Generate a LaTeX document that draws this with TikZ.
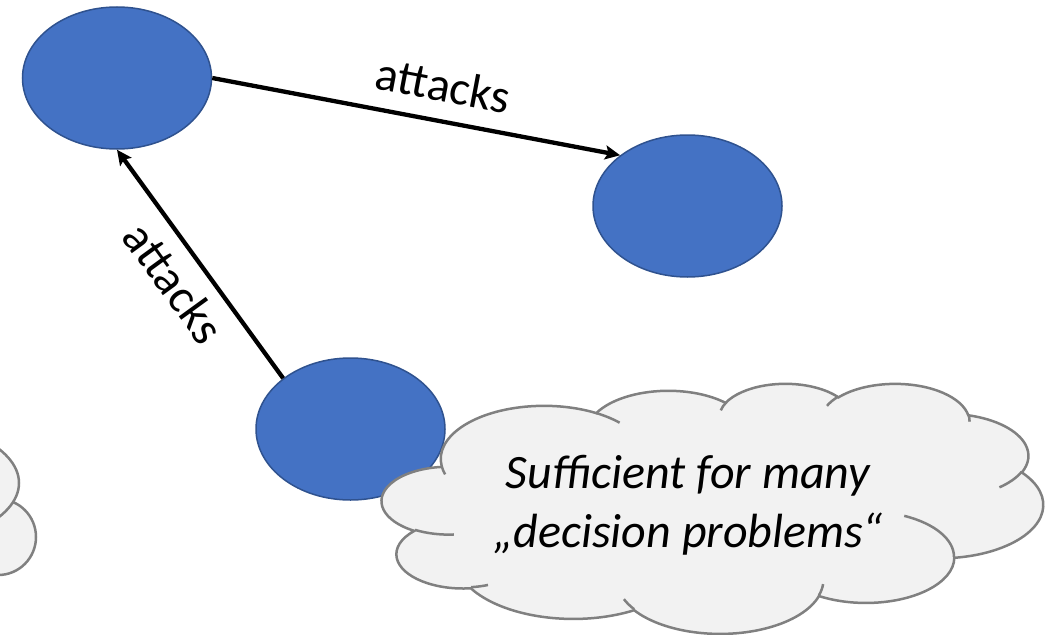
\documentclass[tikz,border=0pt]{standalone}
\usepackage{fontspec}
\setmainfont{Carlito}
\usetikzlibrary{shapes.geometric,arrows.meta}

\definecolor{nodeblue}{HTML}{4472C4}
\definecolor{nodeedge}{HTML}{2F528F}
\definecolor{cloudfill}{HTML}{F2F2F2}
\definecolor{cloudline}{HTML}{808080}

% Elliptical arc given by a visual start angle and sweep (y pointing down):
% converts both to parametric angles and stores them as \cS<name>, \cD<name>.
\newcommand\cloudarc[5]{%
  \pgfmathsetmacro\cloudS{atan2((#2)*sin(#4),(#3)*cos(#4))}%
  \pgfmathsetmacro\cloudE{atan2((#2)*sin((#4)+(#5)),(#3)*cos((#4)+(#5)))}%
  \pgfmathsetmacro\cloudD{\cloudE-\cloudS}%
  \pgfmathsetmacro\cloudD{ifthenelse((#5)>0,ifthenelse(\cloudD<0,\cloudD+360,\cloudD),ifthenelse(\cloudD>0,\cloudD-360,\cloudD))}%
  \expandafter\xdef\csname cS#1\endcsname{\cloudS}%
  \expandafter\xdef\csname cD#1\endcsname{\cloudD}%
}
% outer outline
\cloudarc{a}{67.53}{91.90}{-190.48748}{123.78053}
\cloudarc{b}{53.33}{72.67}{-144.10238}{89.94523}
\cloudarc{c}{43.65}{59.45}{-145.80792}{99.72302}
\cloudarc{d}{48.57}{65.95}{-130.98607}{117.24173}
\cloudarc{e}{53.33}{72.73}{-78.70888}{109.02692}
\cloudarc{f}{67.75}{92.20}{-46.26725}{130.26900}
\cloudarc{g}{57.85}{78.67}{0.62502}{114.03333}
\cloudarc{h}{67.52}{92.15}{22.45160}{115.17255}
\cloudarc{i}{77.20}{105.43}{66.24263}{75.71102}
\cloudarc{j}{43.60}{59.18}{-274.94208}{146.73557}
\cloudarc{k}{43.45}{59.45}{-246.82850}{152.51885}
% inner puff seams
\cloudarc{la}{43.45}{59.45}{86.74200}{26.42950}
\cloudarc{lb}{43.60}{59.18}{73.61047}{11.44747}
\cloudarc{lc}{67.52}{92.15}{137.62415}{14.08110}
\cloudarc{ld}{67.52}{92.15}{6.45327}{15.99835}
\cloudarc{le}{57.85}{78.67}{-70.29235}{70.91737}
\cloudarc{lf}{53.33}{72.73}{30.31803}{27.75150}
\cloudarc{lg}{48.57}{65.95}{-13.74433}{14.85890}
\cloudarc{lh}{48.57}{65.95}{-149.18145}{18.19537}
\cloudarc{li}{43.65}{59.45}{-163.49427}{17.68635}
\cloudarc{lj}{67.53}{91.90}{-66.70825}{15.00000}
\cloudarc{lk}{67.53}{91.90}{157.70000}{11.80000}

\newcommand\puff[3]{arc[x radius=#2,y radius=#3,start angle=\csname cS#1\endcsname,delta angle=\csname cD#1\endcsname]}

\begin{document}
\begin{tikzpicture}[x=1pt,y=-1pt,
  argnode/.style={ellipse,draw=nodeedge,line width=1.5pt,fill=nodeblue,
    minimum width=189pt,minimum height=142pt,inner sep=0pt},
  attackline/.style={line width=4.3pt,
    -{Stealth[length=15pt,width=14pt,inset=3pt]}},
  edgelabel/.style={inner sep=0pt,font=\fontsize{48}{58}\selectfont},
  cloudshape/.style={fill=cloudfill,draw=cloudline,line width=2.5pt},
  cloudseam/.style={draw=cloudline,line width=2.5pt},
  cloudtext/.style={align=center,inner sep=0pt,
    font=\itshape\fontsize{48}{59}\selectfont}]
\useasboundingbox (0,0) rectangle (1056,634);
\clip (0,0) rectangle (1056,634);

% cloud at the left margin
\path[cloudshape] (-1.8,537) ellipse[x radius=37.8,y radius=38];
\path[cloudshape] (-121,483) ellipse[x radius=140,y radius=66];

% arguments
\node[argnode] (e1) at (117,78) {};
\node[argnode] (e2) at (687.5,206) {};
\node[argnode] (e3) at (350.5,429) {};

% attack relations
\draw[attackline] (e1.east) -- node[edgelabel,sloped,above=17pt,pos=0.55] (l1) {attacks} (e2.143);
\draw[attackline] (e3.143) -- node[edgelabel,sloped,below=13pt,pos=0.5] (l2) {attacks} (e1.south);

% thought cloud
\begin{scope}[shift={(382,383)},x=1.5301pt,y=-0.5787pt]
  \path[cloudshape] (39.00,143.70) \puff{a}{67.53}{91.90} \puff{b}{53.33}{72.67}
    \puff{c}{43.65}{59.45} \puff{d}{48.57}{65.95} \puff{e}{53.33}{72.73}
    \puff{f}{67.75}{92.20} \puff{g}{57.85}{78.67} \puff{h}{67.52}{92.15}
    \puff{i}{77.20}{105.43} \puff{j}{43.60}{59.18} \puff{k}{43.45}{59.45} -- cycle;
  \path[cloudseam]
    (46.93,261.77) \puff{la}{43.45}{59.45}
    (69.28,348.99) \puff{lb}{43.60}{59.18}
    (164.78,390.90) \puff{lc}{67.52}{92.15}
    (288.27,347.51) \puff{ld}{67.52}{92.15}
    (341.29,229.54) \puff{le}{57.85}{78.67}
    (417.98,153.54) \puff{lf}{53.33}{72.73}
    (383.24,54.26) \puff{lg}{48.57}{65.95}
    (290.78,39.52) \puff{lh}{48.57}{65.95}
    (221.41,47.20) \puff{li}{43.65}{59.45}
    (140.00,51.92) \puff{lj}{67.53}{91.90}
    (41.27,157.89) \puff{lk}{67.53}{91.90};
\end{scope}
\node[cloudtext] (note) at (688,505) {Sufficient for many\\„decision problems“};
\end{tikzpicture}
\end{document}
